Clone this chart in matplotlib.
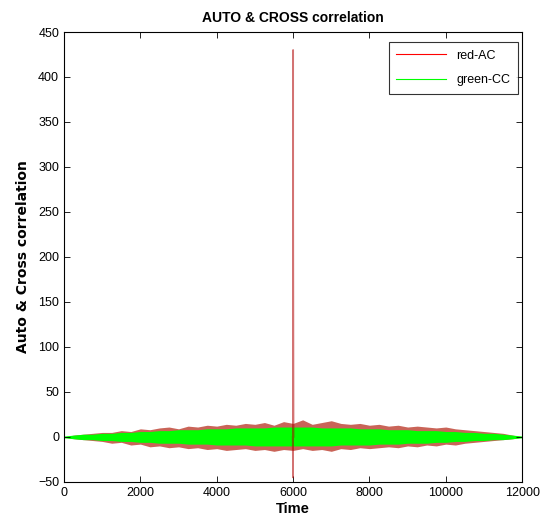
import numpy as np
import matplotlib
matplotlib.use('Agg')
import matplotlib.pyplot as plt

plt.rcParams['font.family'] = ['Liberation Sans Narrow', 'Liberation Sans', 'DejaVu Sans']

# envelope of the noise (time step 250)
tempo = np.arange(0, 12001, 250)
red_sup = [0, 2, 3, 4, 5, 5, 7, 6, 9, 8, 10, 11, 9, 12, 11, 13, 12, 14, 13, 15,
           14, 16, 13, 17, 15, 19, 14, 16, 18, 15, 14, 15, 13, 14, 12, 13, 11, 12,
           11, 10, 11, 9, 8, 7, 6, 5, 4, 2, 0]
red_inf = [0, -2, -3, -4, -5, -7, -6, -9, -8, -11, -10, -12, -11, -13, -12, -14, -13,
           -15, -14, -13, -15, -14, -16, -14, -15, -13, -15, -14, -16, -13, -14, -12,
           -13, -12, -11, -12, -10, -11, -9, -10, -8, -9, -7, -6, -5, -4, -3, -2, 0]
verde_sup = [1, 2, 3, 3, 4, 4, 5, 5, 6, 6, 7, 7, 8, 8, 8, 9, 9, 9, 10, 10,
             10, 10, 11, 11, 11, 11, 11, 10, 10, 10, 10, 9, 9, 9, 8, 8, 8, 7,
             7, 7, 6, 6, 5, 5, 4, 4, 3, 2, 1]
verde_inf = [-1, -2, -3, -3, -4, -4, -5, -5, -6, -6, -7, -7, -7, -8, -8, -8, -9, -9,
             -9, -9, -10, -10, -10, -10, -10, -10, -10, -10, -10, -9, -9, -9, -9, -8,
             -8, -8, -7, -7, -7, -6, -6, -5, -5, -4, -4, -3, -3, -2, -1]

# peak of the auto correlation at zero lag
pico_t = [5990, 5999, 6000, 6001, 6010]
pico_v = [0, -45, 430, 250, 0]

fig = plt.figure(figsize=(5.52, 5.29), dpi=100)
ax = fig.add_axes([0.116, 0.089, 0.83, 0.8505])

ax.fill_between(tempo, red_inf, red_sup, color='#b83020', alpha=0.75, linewidth=0)
ax.fill_between(tempo, verde_inf, verde_sup, color='#00ff00', linewidth=0)
ax.plot(pico_t, pico_v, color='#b00000', alpha=0.55, linewidth=1.3)

# legend handles
ax.plot([], [], color='red', linewidth=0.8, label='red-AC')
ax.plot([], [], color='#00ff00', linewidth=0.8, label='green-CC')

ax.set_xlim(0, 12000)
ax.set_ylim(-50, 450)
ax.set_xticks(np.arange(0, 12001, 2000))
ax.set_yticks(np.arange(-50, 451, 50))
ax.tick_params(direction='in', top=True, right=True, labelsize=9, length=4, width=0.6)
for s in ax.spines.values():
    s.set_linewidth(0.8)

ax.set_title('AUTO & CROSS correlation', fontsize=10, fontweight='bold', pad=7)
ax.set_xlabel('Time', fontsize=10.5, fontweight='bold', labelpad=2)
ax.set_ylabel('Auto & Cross correlation', fontsize=10, fontweight='bold',
              family=['DejaVu Sans'], labelpad=6)

leg = ax.legend(loc='upper right', bbox_to_anchor=(0.99, 0.977), fontsize=9,
                fancybox=False, edgecolor='black', handlelength=4, borderaxespad=0,
                labelspacing=1.0, borderpad=0.6)
leg.get_frame().set_linewidth(0.8)

fig.savefig('out.png', dpi=100)
